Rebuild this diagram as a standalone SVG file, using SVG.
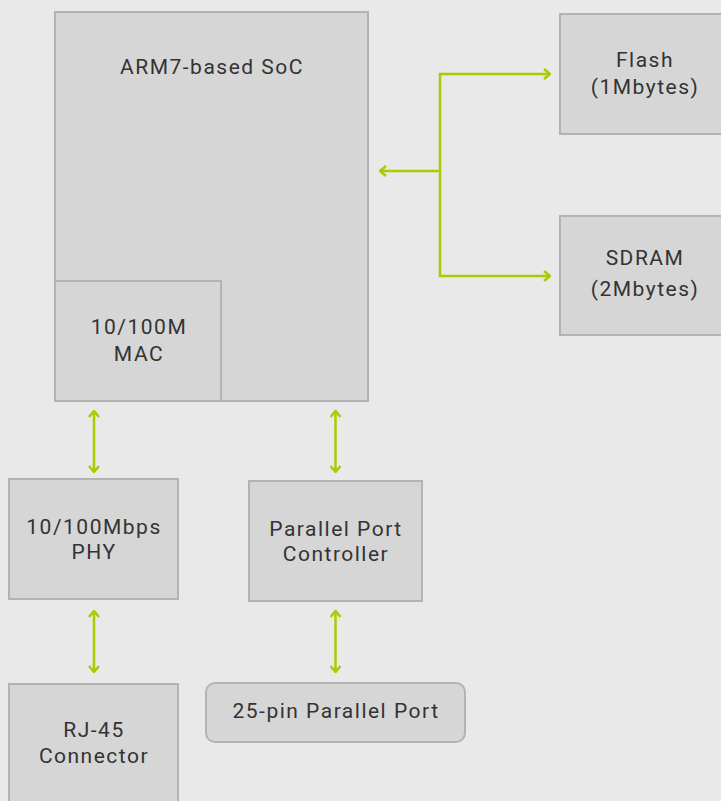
<svg xmlns="http://www.w3.org/2000/svg" width="721" height="801" viewBox="0 0 721 801">
<style>
.box{fill:#d6d6d6;stroke:#b3b3b3;stroke-width:2}
.t{font-family:Roboto,"Liberation Sans",sans-serif;font-size:21px;fill:#333;text-anchor:middle;letter-spacing:1.5px}
.c{fill:none;stroke:#a8cc00;stroke-width:2.5}
</style>
<defs>
<marker id="ah" viewBox="0 0 10 12" refX="9" refY="6" markerWidth="10" markerHeight="12" markerUnits="userSpaceOnUse" orient="auto-start-reverse">
<polyline points="3,1 9,6 3,11" fill="none" stroke="#a8cc00" stroke-width="2.5"/>
</marker>
</defs>
<rect width="721" height="801" fill="#e9e9e9"/>
<g id="soc"><rect class="box" x="55" y="12" width="313" height="389"/><text class="t" x="212" y="74">ARM7-based SoC</text></g>
<g id="mac"><rect class="box" x="55" y="281" width="166" height="120"/><text class="t" x="139" y="334">10/100M</text><text class="t" x="139" y="361">MAC</text></g>
<g id="flash"><rect class="box" x="560" y="14" width="170" height="120"/><text class="t" x="645" y="67">Flash</text><text class="t" x="645" y="94">(1Mbytes)</text></g>
<g id="sdram"><rect class="box" x="560" y="216" width="170" height="119"/><text class="t" x="645" y="265">SDRAM</text><text class="t" x="645" y="296">(2Mbytes)</text></g>
<g id="phy"><rect class="box" x="9" y="479" width="169" height="120"/><text class="t" x="94" y="534">10/100Mbps</text><text class="t" x="94" y="559">PHY</text></g>
<g id="ppc"><rect class="box" x="249" y="481" width="173" height="120"/><text class="t" x="336" y="536">Parallel Port</text><text class="t" x="336" y="561">Controller</text></g>
<g id="port"><rect class="box" x="206" y="683" width="259" height="59" rx="9"/><text class="t" x="336" y="718">25-pin Parallel Port</text></g>
<g id="rj45"><rect class="box" x="9" y="684" width="169" height="130"/><text class="t" x="94" y="737">RJ-45</text><text class="t" x="94" y="763">Connector</text></g>
<g id="connectors">
<polyline class="c" points="550,74 440,74 440,276 550,276" marker-start="url(#ah)" marker-end="url(#ah)"/>
<line class="c" x1="440" y1="171" x2="380" y2="171" marker-end="url(#ah)"/>
<line class="c" x1="94" y1="411" x2="94" y2="472" marker-start="url(#ah)" marker-end="url(#ah)"/>
<line class="c" x1="335.5" y1="411" x2="335.5" y2="472" marker-start="url(#ah)" marker-end="url(#ah)"/>
<line class="c" x1="94" y1="611" x2="94" y2="672" marker-start="url(#ah)" marker-end="url(#ah)"/>
<line class="c" x1="335.5" y1="611" x2="335.5" y2="672" marker-start="url(#ah)" marker-end="url(#ah)"/>
</g>
</svg>
